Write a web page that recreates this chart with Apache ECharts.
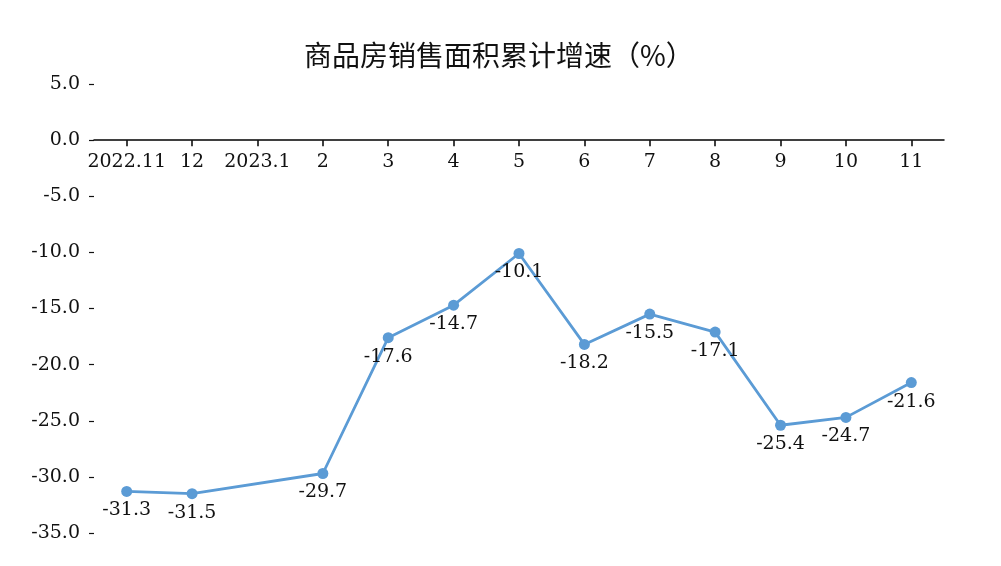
<!DOCTYPE html>
<html>
<head>
<meta charset="utf-8">
<script src="https://cdn.jsdelivr.net/npm/echarts@6/dist/echarts.min.js"></script>
<style>
html,body{margin:0;padding:0;background:#fff;}
#chart{width:1001px;height:566px;}
</style>
</head>
<body>
<div id="chart"></div>
<script>
const titleText = '商品房销售面积累计增速（%）';
const categories = ['2022.11','12','2023.1','2','3','4','5','6','7','8','9','10','11'];
const growth = [-31.3, -31.5, null, -29.7, -17.6, -14.7, -10.1, -18.2, -15.5, -17.1, -25.4, -24.7, -21.6];
const yMin = -35, yMax = 5, yStep = 5;

const serif = 'DejaVu Serif';
const gridTop = 84, gridBottom = 33, chartH = 566;
const plotH = chartH - gridTop - gridBottom;
// place the x axis on the zero line
const zeroOffset = -plotH * (0 - yMin) / (yMax - yMin);

const chart = echarts.init(document.getElementById('chart'));
chart.setOption({
  backgroundColor: '#ffffff',
  animation: false,
  title: {
    text: titleText,
    left: 299,
    top: 36,
    textStyle: { fontFamily: 'Noto Sans CJK SC', fontSize: 28, fontWeight: 'normal', color: '#111' }
  },
  grid: { left: 94, right: 57, top: gridTop, bottom: gridBottom },
  xAxis: {
    type: 'category',
    data: categories,
    boundaryGap: true,
    position: 'bottom',
    offset: zeroOffset,
    axisLine: { onZero: false, lineStyle: { color: '#000', width: 1.5 } },
    axisTick: { show: true, alignWithLabel: true, length: 6, lineStyle: { color: '#000', width: 1.5 } },
    axisLabel: { margin: 12, fontFamily: serif, fontSize: 19, color: '#111', interval: 0 },
    splitLine: { show: false }
  },
  yAxis: {
    type: 'value',
    min: yMin, max: yMax, interval: yStep,
    axisLine: { show: false },
    axisTick: { show: true, length: 5, lineStyle: { color: '#111', width: 1.2 } },
    axisLabel: { margin: 14, fontFamily: serif, fontSize: 19, color: '#111', formatter: v => v.toFixed(1) },
    splitLine: { show: false }
  },
  series: [{
    type: 'line',
    data: growth,
    connectNulls: true,
    symbol: 'circle',
    symbolSize: 11,
    itemStyle: { color: '#5b9bd5' },
    lineStyle: { color: '#5b9bd5', width: 2.8 },
    label: {
      show: true,
      position: 'bottom',
      distance: 4,
      fontFamily: serif,
      fontSize: 19,
      color: '#111',
      formatter: p => p.value.toFixed(1)
    }
  }]
});
</script>
</body>
</html>
